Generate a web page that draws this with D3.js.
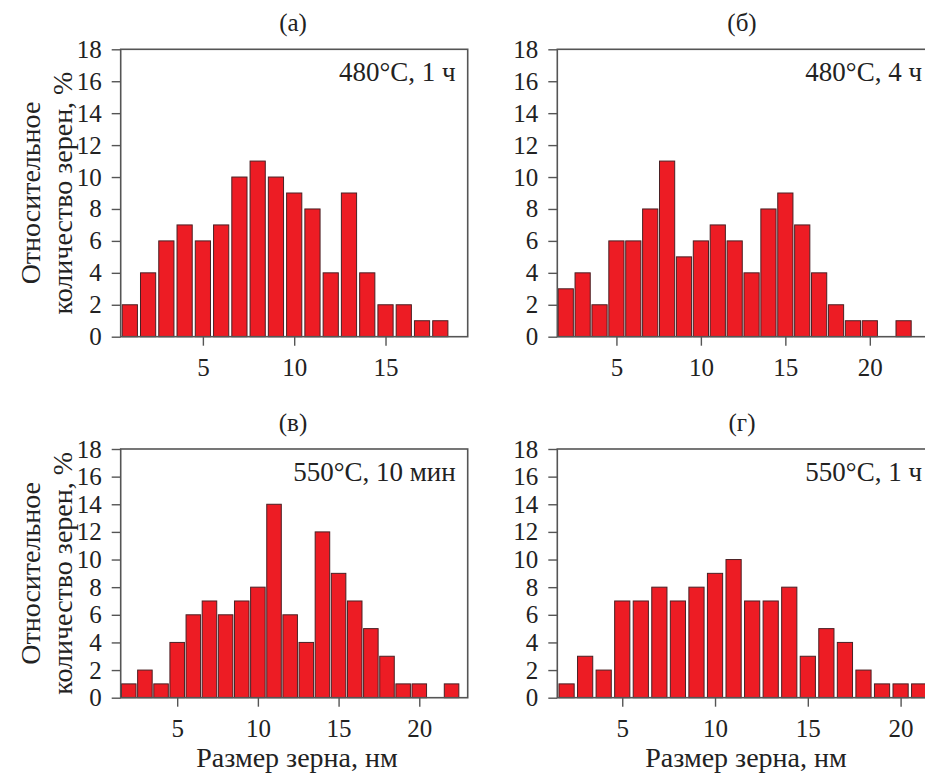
<!DOCTYPE html>
<html>
<head>
<meta charset="utf-8">
<script src="https://cdn.jsdelivr.net/npm/d3@7"></script>
<style>
  body { margin: 0; background: #fff; }
  text { font-family: "Liberation Serif", "Times New Roman", serif; fill: #222; }
</style>
</head>
<body>
<svg id="chart" width="925" height="773"></svg>
<script>
// grain size (nm) and relative number of grains (%)
const sizesA = [1, 2, 3, 4, 5, 6, 7, 8, 9, 10, 11, 12, 13, 14, 15, 16, 17, 18]
const countsA = [2, 4, 6, 7, 6, 7, 10, 11, 10, 9, 8, 4, 9, 4, 2, 2, 1, 1]

const sizesB = [2, 3, 4, 5, 6, 7, 8, 9, 10, 11, 12, 13, 14, 15, 16, 17, 18, 19, 20, 22]
const countsB = [3, 4, 2, 6, 6, 8, 11, 5, 6, 7, 6, 4, 8, 9, 7, 4, 2, 1, 1, 1]

const sizesC = [2, 3, 4, 5, 6, 7, 8, 9, 10, 11, 12, 13, 14, 15, 16, 17, 18, 19, 20, 22]
const countsC = [1, 2, 1, 4, 6, 7, 6, 7, 8, 14, 6, 4, 12, 9, 7, 5, 3, 1, 1, 1]

const sizesD = [2, 3, 4, 5, 6, 7, 8, 9, 10, 11, 12, 13, 14, 15, 16, 17, 18, 19, 20, 21]
const countsD = [1, 3, 2, 7, 7, 8, 7, 8, 9, 10, 7, 7, 8, 3, 5, 4, 2, 1, 1, 1]

const yTicks = [0, 2, 4, 6, 8, 10, 12, 14, 16, 18]
const xTicksA = [5, 10, 15]
const xTicksB = [5, 10, 15, 20]

const titles = ['(а)', '(б)', '(в)', '(г)']
const notes = ['480°C, 1 ч', '480°C, 4 ч', '550°C, 10 мин', '550°C, 1 ч']
const yLabelLines = ['Относительное', 'количество зерен, %']
const xLabel = 'Размер зерна, нм'

const RED = '#ed1c24'
const EDGE = '#4a2024'
const FRAME = '#555'

const svg = d3.select('#chart')

// panel boxes (px) and x domains; the right column runs past the picture edge
const panels = [
  { sizes: sizesA, counts: countsA, ticks: xTicksA, dom: [0.5, 19.5], x0: 120.7, x1: 467.7, y0: 49.3, y1: 336.7, leftLabel: true, bottomLabel: false, labelX: 297 },
  { sizes: sizesB, counts: countsB, ticks: xTicksB, dom: [1.5, 23.8], x0: 557.3, x1: 934, y0: 49.3, y1: 336.7, leftLabel: false, bottomLabel: false, labelX: 746 },
  { sizes: sizesC, counts: countsC, ticks: xTicksB, dom: [1.5, 23], x0: 120.7, x1: 467.7, y0: 449, y1: 697.7, leftLabel: true, bottomLabel: true, labelX: 297 },
  { sizes: sizesD, counts: countsD, ticks: xTicksB, dom: [1.5, 21.8], x0: 557.3, x1: 934, y0: 449, y1: 697.7, leftLabel: false, bottomLabel: true, labelX: 746 },
]

panels.forEach((p, i) => {
  const x = d3.scaleLinear().domain(p.dom).range([p.x0, p.x1])
  const y = d3.scaleLinear().domain([0, 18]).range([p.y1, p.y0])
  const unit = x(1) - x(0)
  const bw = Math.min(15.2, unit - 1.6)
  const g = svg.append('g')

  g.selectAll('rect.bar')
    .data(p.sizes.map((s, k) => ({ s, v: p.counts[k] })))
    .join('rect')
    .attr('class', 'bar')
    .attr('x', d => x(d.s) - bw / 2)
    .attr('width', bw)
    .attr('y', d => y(d.v))
    .attr('height', d => y(0) - y(d.v))
    .attr('fill', RED).attr('stroke', EDGE).attr('stroke-width', 1)

  // frame
  g.append('rect')
    .attr('x', p.x0).attr('y', p.y0)
    .attr('width', p.x1 - p.x0).attr('height', p.y1 - p.y0)
    .attr('fill', 'none').attr('stroke', FRAME).attr('stroke-width', 1.6)

  const ya = g.append('g').attr('transform', `translate(${p.x0},0)`)
    .call(d3.axisLeft(y).tickValues(yTicks).tickSize(9).tickPadding(10))
  const xa = g.append('g').attr('transform', `translate(0,${p.y1})`)
    .call(d3.axisBottom(x).tickValues(p.ticks).tickSize(9).tickPadding(13))
  ;[ya, xa].forEach(a => {
    a.select('.domain').remove()
    a.selectAll('line').attr('stroke', FRAME).attr('stroke-width', 1.4)
    a.selectAll('text').attr('font-size', 25).attr('fill', '#222')
  })

  g.append('text')
    .attr('x', p.labelX - 4).attr('y', p.y0 - 18)
    .attr('text-anchor', 'middle').attr('font-size', 25)
    .text(titles[i])

  g.append('text')
    .attr('x', p.x1 - 12).attr('y', p.y0 + 32)
    .attr('text-anchor', 'end').attr('font-size', 27)
    .text(notes[i])

  if (p.leftLabel) {
    const my = (p.y0 + p.y1) / 2
    yLabelLines.forEach((line, k) => {
      g.append('text')
        .attr('transform', `translate(${40 + k * 32},${my}) rotate(-90)`)
        .attr('text-anchor', 'middle').attr('font-size', 28)
        .text(line)
    })
  }

  if (p.bottomLabel) {
    g.append('text')
      .attr('x', p.labelX).attr('y', 767)
      .attr('text-anchor', 'middle').attr('font-size', 28)
      .text(xLabel)
  }
})
</script>
</body>
</html>
